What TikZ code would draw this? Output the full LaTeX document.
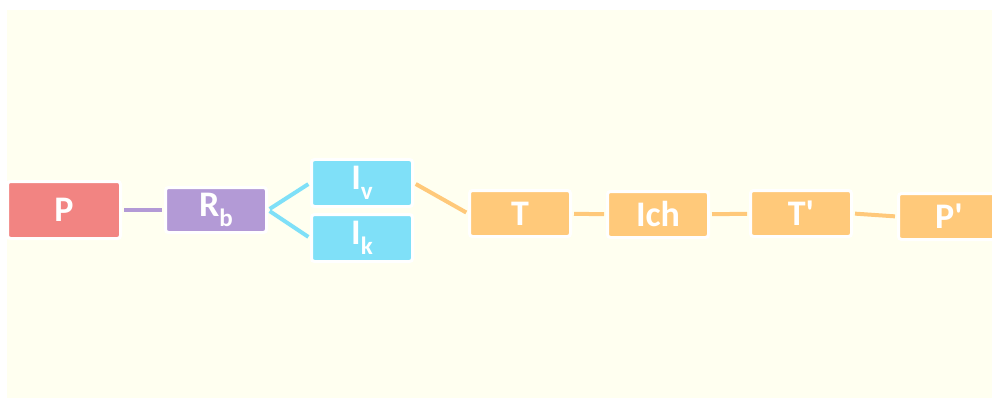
\documentclass[tikz,border=0pt]{standalone}
\usepackage{fontspec}
\setmainfont{Carlito}
\usetikzlibrary{positioning}
\definecolor{Paper}{HTML}{FFFFF0}
\definecolor{Rose}{HTML}{F28482}
\definecolor{Lilac}{HTML}{B39AD6}
\definecolor{Sky}{HTML}{7FE0F8}
\definecolor{Apricot}{HTML}{FFC97A}
\newcommand{\lowsub}[1]{\raisebox{-0.28em}{\fontsize{25}{25}\selectfont #1}}

\begin{document}
\begin{tikzpicture}[x=1pt,y=-1pt,
  box/.style={draw=white,line width=3pt,rounded corners=3pt,inner sep=0pt,
    text=white,font=\bfseries\fontsize{36}{36}\selectfont,
    minimum width=101pt,minimum height=46pt},
  link/.style={line width=4pt,shorten <=2pt,shorten >=2pt}
]
\useasboundingbox (0,0) rectangle (992,398);
\fill[Paper] (7,10) rectangle (992,398);

% Left part.
\node[box,fill=Rose,minimum width=113pt,minimum height=57pt] (p) at (64,210) {P};
\node[box,fill=Lilac,minimum height=45pt] (rb) at (216,210) {R\lowsub{b}};
\node[box,fill=Sky,minimum height=47pt] (iv) at (362,183) {I\lowsub{v}};
\node[box,fill=Sky,minimum height=47pt] (ik) at (362,238) {I\lowsub{k}};
\draw[link,Lilac] (p)--(rb);
\draw[link,Sky] (rb.east)--(iv.west);
\draw[link,Sky] (rb.east)--(ik.west);

% Right part.
\node[box,fill=Apricot] (t) at (520,213.5) {T};
\node[box,fill=Apricot] (ich) at (658,214.5) {Ich};
\node[box,fill=Apricot] (tp) at (801,213.5) {T\textquotesingle};
\node[box,fill=Apricot] (pp) at (949,216.5) {P\textquotesingle};
\draw[link,Apricot] (iv.east)--(t.west);
\draw[link,Apricot] (t)--(ich);
\draw[link,Apricot] (ich)--(tp);
\draw[link,Apricot] (tp.east)--(pp.west);
\end{tikzpicture}
\end{document}
